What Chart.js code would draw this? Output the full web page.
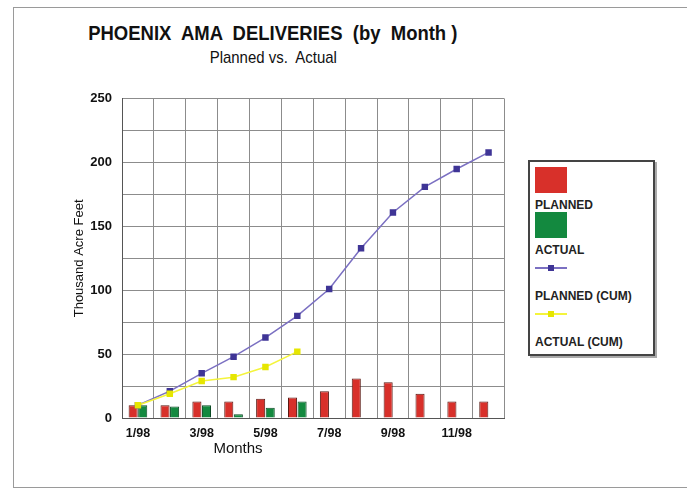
<!DOCTYPE html>
<html>
<head>
<meta charset="utf-8">
<script src="https://cdn.jsdelivr.net/npm/chart.js@4/dist/chart.umd.min.js"></script>
<style>
  body { margin: 0; background: #fff; font-family: "Liberation Sans", Arial, sans-serif; }
  #page { position: relative; width: 687px; height: 489px; overflow: hidden; background: #fff; }
  #frame { position: absolute; left: 13px; top: 7px; width: 700px; height: 479px; border: 1px solid #9a9a9a; border-right: none; }
  #title { position: absolute; left: 0; width: 546px; top: 21px; text-align: center; font-weight: bold; font-size: 21px; white-space: pre; color: #111; }
  #subtitle { position: absolute; left: 0; width: 546px; top: 48px; text-align: center; font-size: 17px; white-space: pre; color: #111; }
  .narrow { display: inline-block; transform: scaleX(0.88); }
  #wrap { position: absolute; left: 66px; top: 81px; width: 444px; height: 367px; }
  #xtitle { position: absolute; left: 188px; width: 100px; top: 439px; text-align: center; font-size: 15px; color: #111; }
  #legend { position: absolute; left: 528px; top: 160px; width: 127px; height: 196px; border: 2px solid #444; box-shadow: 2px 2px 0 #aaa; padding: 5px 0 0 5px; box-sizing: border-box; }
  .item .swatch { width: 32px; height: 26px; }
  .item .mark { width: 32px; height: 22px; position: relative; }
  .item .mark .ln { position: absolute; left: 0; right: 0; top: 10px; height: 1.5px; }
  .item .mark .pt { position: absolute; left: 13px; top: 8px; width: 6px; height: 6px; }
  .item .lab { font-size: 12px; line-height: 14px; font-weight: bold; color: #222; white-space: nowrap; }
  .item.bar .lab { margin-top: 5px; }
  .item.line .lab { margin-top: 10px; }
</style>
</head>
<body>
<div id="page">
  <div id="frame"></div>
  <div id="title"><span class="narrow">PHOENIX  AMA  DELIVERIES  (by  Month )</span></div>
  <div id="subtitle"><span class="narrow">Planned vs.  Actual</span></div>
  <div id="wrap"><canvas id="chart"></canvas></div>
  <div id="xtitle">Months</div>
  <div id="legend"></div>
</div>
<script>
const months = ['1/98', '2/98', '3/98', '4/98', '5/98', '6/98', '7/98', '8/98', '9/98', '10/98', '11/98', '12/98'];
const planned = [10, 10, 13, 13, 15, 16, 21, 31, 28, 19, 13, 13];
const actual = [10, 9, 10, 3, 8, 13];
const plannedCum = [10, 21, 35, 48, 63, 80, 101, 133, 161, 181, 195, 208];
const actualCum = [10, 19, 29, 32, 40, 52];

const datasets = [
  { type: 'bar', label: 'PLANNED', data: planned, backgroundColor: '#d8302a', borderColor: '#5a1a14', borderWidth: 1, order: 2 },
  { type: 'bar', label: 'ACTUAL', data: actual, backgroundColor: '#13893f', borderColor: '#0b4a24', borderWidth: 1, order: 2 },
  { type: 'line', label: 'PLANNED (CUM)', data: plannedCum, borderColor: '#7b70c2', backgroundColor: '#3f3596', borderWidth: 1.5, pointStyle: 'rect', pointRadius: 3.5, pointBorderColor: '#3f3596', tension: 0, order: 1 },
  { type: 'line', label: 'ACTUAL (CUM)', data: actualCum, borderColor: '#f4f43c', backgroundColor: '#e6e600', borderWidth: 1.5, pointStyle: 'rect', pointRadius: 3.5, pointBorderColor: '#e6e600', tension: 0, order: 0 }
];

const gridColor = '#8c8c8c';

const chart = new Chart(document.getElementById('chart'), {
  data: { labels: months, datasets: datasets },
  options: {
    responsive: true,
    maintainAspectRatio: false,
    animation: false,
    layout: { padding: { top: 11, right: 5, left: 0, bottom: 0 } },
    datasets: { bar: { categoryPercentage: 0.6, barPercentage: 0.95 } },
    plugins: { legend: { display: false }, tooltip: { enabled: false } },
    scales: {
      x: {
        grid: { color: gridColor, offset: true, drawTicks: false },
        border: { color: '#555', width: 1 },
        ticks: {
          autoSkip: false, maxRotation: 0, padding: 8, color: '#111',
          font: { family: 'Liberation Sans', size: 12.5, weight: 'bold' },
          callback: (value, index) => (index % 2 === 0 ? months[index] : '')
        },
        afterFit: (scale) => { scale.height = 30; }
      },
      y: {
        min: 0, max: 250,
        grid: { color: gridColor, drawTicks: false },
        border: { color: '#555', width: 1 },
        ticks: {
          stepSize: 25, padding: 10, color: '#111',
          font: { family: 'Liberation Sans', size: 13, weight: 'bold' },
          callback: (value) => (value % 50 === 0 ? value : '')
        },
        title: { display: true, text: 'Thousand Acre Feet', color: '#111', font: { family: 'Liberation Sans', size: 13 }, padding: { top: 6, bottom: 0 } },
        afterFit: (scale) => { scale.width = 56; }
      }
    }
  }
});

// legend built from the chart's datasets
const legend = document.getElementById('legend');
legend.innerHTML = chart.data.datasets.map((ds) => {
  const marker = ds.type === 'bar'
    ? `<div class="swatch" style="background:${ds.backgroundColor}"></div>`
    : `<div class="mark"><div class="ln" style="background:${ds.borderColor}"></div><div class="pt" style="background:${ds.backgroundColor}"></div></div>`;
  return `<div class="item ${ds.type}">${marker}<div class="lab">${ds.label}</div></div>`;
}).join('');
</script>
</body>
</html>
